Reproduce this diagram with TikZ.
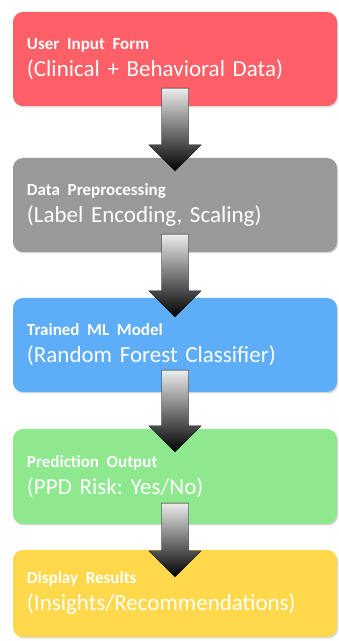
\documentclass[tikz,border=0pt]{standalone}
\usepackage{fontspec}
\setmainfont{Carlito}
\usetikzlibrary{calc,shadows}

\definecolor{stagered}{HTML}{FF5F67}
\definecolor{stagegray}{HTML}{999999}
\definecolor{stageblue}{HTML}{5DADF8}
\definecolor{stagegreen}{HTML}{8DE88E}
\definecolor{stageyellow}{HTML}{FFD84C}

\begin{document}
\frenchspacing
\begin{tikzpicture}[x=1pt, y=1pt,
    stage/.style={rectangle, rounded corners=3.5mm, minimum width=324pt, minimum height=94pt,
        text width=296pt, inner xsep=14pt, align=left, text=white,
        font=\fontsize{23}{27}\selectfont,
        drop shadow={opacity=0.3, shadow xshift=1pt, shadow yshift=-1.5pt}},
    flow/.style={draw=black, thin, top color=gray!15, bottom color=black,
        to path={let \p1=(\tikztostart), \p2=(\tikztotarget) in
            (\x1-13.5pt,\y1) -- (\x1+13.5pt,\y1) -- (\x1+13.5pt,\y2+26pt) -- (\x1+26pt,\y2+26pt)
            -- (\x1,\y2) -- (\x1-26pt,\y2+26pt) -- (\x1-13.5pt,\y2+26pt) -- cycle}},
]
\useasboundingbox (0,0) rectangle (339,641);

\node[stage, fill=stagered] (b1) at (175,582) {{\fontsize{17}{20}\selectfont\bfseries User Input Form}\\(Clinical + Behavioral Data)};
\node[stage, fill=stagegray] (b2) at (175,436) {{\fontsize{17}{20}\selectfont\bfseries Data Preprocessing}\\(Label Encoding, Scaling)};
\node[stage, fill=stageblue] (b3) at (175,296) {{\fontsize{17}{20}\selectfont\bfseries Trained ML Model}\\(Random Forest Classifier)};
\node[stage, fill=stagegreen, minimum height=95pt] (b4) at (175,164.5) {{\fontsize{17}{20}\selectfont\bfseries Prediction Output}\\(PPD Risk: Yes/No)};
\node[stage, fill=stageyellow, minimum height=87pt] (b5) at (175,47.5) {{\fontsize{17}{20}\selectfont\bfseries Display Results}\\(Insights/Recommendations)};

\draw[flow] ($(b1.south)+(0,18)$) to ($(b2.north)+(0,-13)$);
\draw[flow] ($(b2.south)+(0,18)$) to ($(b3.north)+(0,-19)$);
\draw[flow] ($(b3.south)+(0,22)$) to ($(b4.north)+(0,-23)$);
\draw[flow] ($(b4.south)+(0,21)$) to ($(b5.north)+(0,-27)$);
\end{tikzpicture}
\end{document}
